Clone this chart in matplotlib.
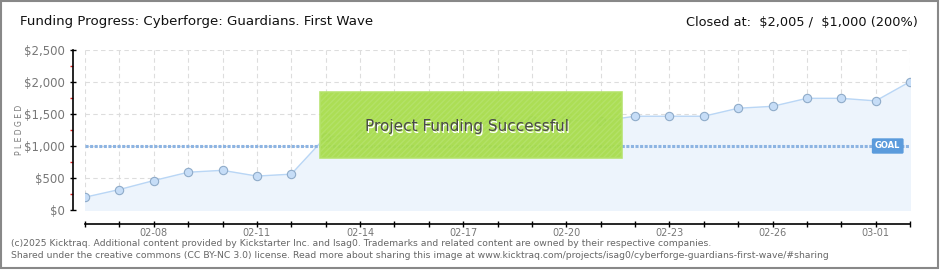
import matplotlib
matplotlib.use("Agg")
import matplotlib.pyplot as plt
from matplotlib.patches import Rectangle
from matplotlib.ticker import FuncFormatter, MultipleLocator
import numpy as np

# Kicktraq funding progress data (pledged $ per day)
dates = ["02-06", "02-07", "02-08", "02-09", "02-10", "02-11", "02-12", "02-13",
         "02-14", "02-15", "02-16", "02-17", "02-18", "02-19", "02-20", "02-21",
         "02-22", "02-23", "02-24", "02-25", "02-26", "02-27", "02-28", "03-01", "03-02"]
pledged = [200, 320, 460, 590, 620, 530, 560, 1140,
           1180, 1230, 1290, 1350, 1400, 1400, 1400, 1390,
           1465, 1465, 1465, 1590, 1620, 1745, 1745, 1705, 2005]
goal = 1000
label_dates = ["02-08", "02-11", "02-14", "02-17", "02-20", "02-23", "02-26", "03-01"]

W, H = 940, 270
fig = plt.figure(figsize=(W / 100, H / 100), dpi=100)
fig.patch.set_facecolor("white")

ax = fig.add_axes([85 / W, 1 - 210 / H, 825 / W, 160 / H])
x = np.arange(len(dates))

ax.set_xlim(0, len(dates) - 1)
ax.set_ylim(0, 2500)

# grid
ax.set_axisbelow(True)
ax.grid(True, which="major", color="#dddddd", linestyle=(0, (4, 3)), linewidth=0.8)

# area + line + markers
ax.fill_between(x, pledged, 0, color="#edf4fc", zorder=1)
ax.plot(x, pledged, color="#b9d6f5", linewidth=1, zorder=2)
ax.plot(x, pledged, "o", markersize=6, markerfacecolor="#c6ddf7",
        markeredgecolor="#8fabc9", markeredgewidth=0.8, zorder=3)

# goal line
ax.axhline(goal, color="#8db4e2", linewidth=2.2, linestyle=(0, (1, 0.5)), zorder=2)
ax.text(0.973, goal, "GOAL", transform=ax.get_yaxis_transform(),
        ha="center", va="center", color="white", fontsize=6, fontweight="bold",
        bbox=dict(boxstyle="round,pad=0.3,rounding_size=0.1", fc="#5b9bdc", ec="#5b9bdc"),
        zorder=5)

# axes styling
for s in ["top", "right"]:
    ax.spines[s].set_visible(False)
ax.spines["left"].set_position(("outward", 9))
ax.spines["bottom"].set_position(("outward", 10))
ax.spines["left"].set_linewidth(1.2)
ax.spines["bottom"].set_linewidth(1.2)

ax.yaxis.set_major_locator(MultipleLocator(500))
ax.yaxis.set_minor_locator(MultipleLocator(250))
ax.yaxis.set_major_formatter(FuncFormatter(lambda v, p: "\\${:,.0f}".format(v)))
ax.tick_params(axis="y", which="major", direction="inout", length=5, width=1,
               colors="black", labelcolor="#777777", labelsize=8.5, pad=3)
ax.tick_params(axis="y", which="minor", direction="out", length=2.5, width=1, colors="#dd2222")

ax.set_xticks(x)
ax.set_xticklabels([d if d in label_dates else "" for d in dates])
ax.tick_params(axis="x", direction="inout", length=4, width=1, colors="black",
               labelcolor="#777777", labelsize=7, pad=1)
ax.xaxis.grid(True)

# success banner
banner = Rectangle((320 / W, 1 - 158 / H), 302 / W, 66 / H, transform=fig.transFigure,
                   facecolor="#a6dc48", edgecolor="#b4e26a", linewidth=1.2,
                   alpha=0.93, zorder=10, hatch="//////")
fig.patches.append(banner)
fig.text(468 / W, 1 - 128 / H, "Project Funding Successful", ha="center", va="center",
         fontsize=11, color="#ffffff", zorder=11)
fig.text(467 / W, 1 - 127 / H, "Project Funding Successful", ha="center", va="center",
         fontsize=11, color="#4a4a4a", zorder=12)

# titles
fig.text(20 / W, 1 - 22 / H, "Funding Progress: Cyberforge: Guardians. First Wave",
         ha="left", va="center", fontsize=9.6, color="#111111")
fig.text(918 / W, 1 - 22 / H, "Closed at:  \\$2,005 /  \\$1,000 (200%)",
         ha="right", va="center", fontsize=9.3, color="#111111")

fig.text(20 / W, 1 - 130 / H, "P L E D G E D", rotation=90, ha="center", va="center",
         fontsize=5.5, color="#777777")

# footer
fig.text(11 / W, 1 - 243 / H,
         "(c)2025 Kicktraq. Additional content provided by Kickstarter Inc. and Isag0. "
         "Trademarks and related content are owned by their respective companies.",
         ha="left", va="center", fontsize=6.65, color="#666666")
fig.text(11 / W, 1 - 256 / H,
         "Shared under the creative commons (CC BY-NC 3.0) license. Read more about sharing "
         "this image at www.kicktraq.com/projects/isag0/cyberforge-guardians-first-wave/#sharing",
         ha="left", va="center", fontsize=6.65, color="#666666")

# outer border
fig.patches.append(Rectangle((0.5 / W, 2 / H), (W - 2.5) / W, (H - 2.5) / H,
                             transform=fig.transFigure, fill=False,
                             edgecolor="#888888", linewidth=1.5))

fig.savefig("out.png", dpi=100)
